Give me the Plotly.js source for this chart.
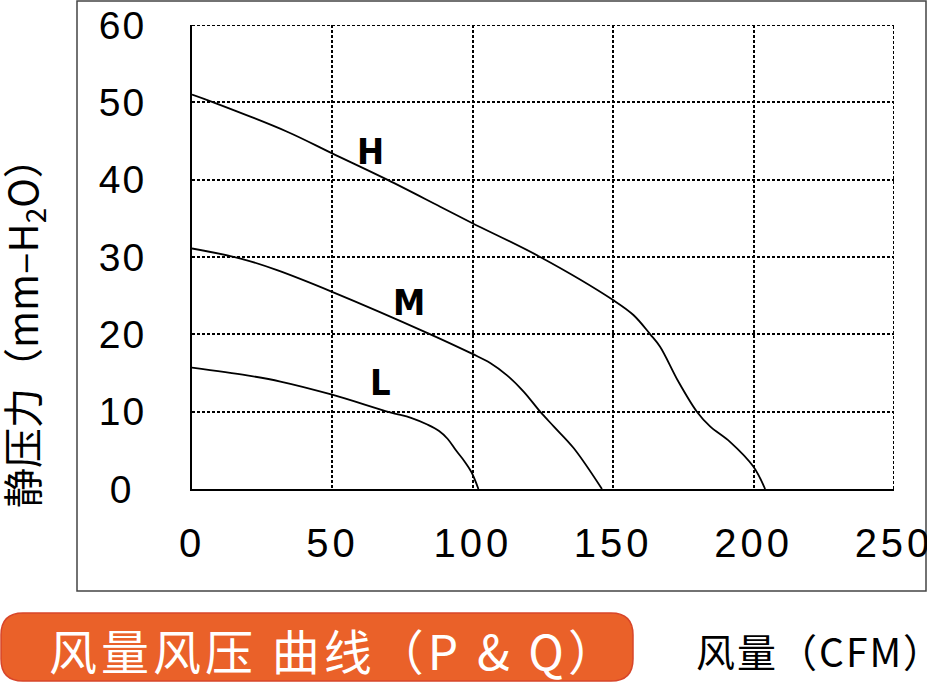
<!DOCTYPE html>
<html>
<head>
<meta charset="utf-8">
<script src="https://cdn.plot.ly/plotly-3.0.1.min.js"></script>
<style>
  body { margin: 0; background: #fff; }
  #chart { width: 927px; height: 683px; }
  .xtick text { letter-spacing: 4px; }
  .ytick text { letter-spacing: 2px; }
  g.annotation[data-index="4"] text { letter-spacing: 4px; }
  g.annotation[data-index="5"] text { letter-spacing: 2px; }
</style>
</head>
<body>
<div id="chart"></div>
<script>
// airflow (CFM) / static pressure (mm-H2O)
var hFlow = [0, 7.6, 33.9, 49.9, 69.5, 88.4, 99.7, 124, 150.1, 157.2, 163.2, 166.7, 173.2, 179.8, 184.5, 191.6, 199.9, 204.1];
var hPres = [51.0, 50.0, 46.2, 43.4, 40.0, 36.5, 34.4, 30.0, 24.4, 22.5, 20.0, 18.4, 13.9, 10.0, 8.1, 6.1, 2.9, 0];

var mFlow = [0, 17.3, 30.3, 49.9, 84.3, 99.7, 106.2, 112.2, 118.1, 124, 128.8, 135.9, 146];
var mPres = [31.1, 29.8, 28.3, 25.5, 20.1, 17.5, 16.3, 14.7, 12.6, 10.0, 8.1, 5.3, 0];

var lFlow = [0, 19.6, 31.5, 49.9, 70.6, 78, 84, 88, 91, 94, 97, 99.5, 102];
var lPres = [15.7, 14.7, 13.9, 12.2, 9.9, 9.2, 8.3, 7.5, 6.5, 5.0, 3.6, 2.2, 0];

var curveNames = ['H', 'M', 'L'];
var labelFlow = [63.6, 77.1, 67.0];
var labelPres = [43.6, 24.1, 13.8];

var xTicks = [0, 50, 100, 150, 200, 250];
var yTicks = [0, 10, 20, 30, 40, 50, 60];
var yTickText = ['0\u00a0', '10', '20', '30', '40', '50', '60'];

// page pixel -> paper coords (plot area is 192..894 x 25..489)
function px(x) { return (x - 192) / 702; }
function py(y) { return (489 - y) / 464; }

function curve(x, y) {
    return {
        type: 'scatter',
        mode: 'lines',
        x: x,
        y: y,
        line: { color: '#000', width: 1.8, shape: 'spline', smoothing: 1 },
        hoverinfo: 'skip'
    };
}

var traces = [curve(hFlow, hPres), curve(mFlow, mPres), curve(lFlow, lPres)];

var labels = curveNames.map(function (n, i) {
    return {
        x: labelFlow[i], y: labelPres[i], text: n, showarrow: false,
        xanchor: 'center', yanchor: 'middle',
        font: { family: 'Liberation Sans Narrow, DejaVu Sans Condensed, Liberation Sans', size: 36, weight: 'bold', color: '#000' }
    };
});

// rounded orange banner
var bx0 = px(1), bx1 = px(633), by0 = py(681), by1 = py(613);
var rx = 22 / 702, ry = 22 / 464;
var bannerPath = 'M' + (bx0 + rx) + ',' + by1 +
    ' L' + (bx1 - rx) + ',' + by1 +
    ' Q' + bx1 + ',' + by1 + ' ' + bx1 + ',' + (by1 - ry) +
    ' L' + bx1 + ',' + (by0 + ry) +
    ' Q' + bx1 + ',' + by0 + ' ' + (bx1 - rx) + ',' + by0 +
    ' L' + (bx0 + rx) + ',' + by0 +
    ' Q' + bx0 + ',' + by0 + ' ' + bx0 + ',' + (by0 + ry) +
    ' L' + bx0 + ',' + (by1 - ry) +
    ' Q' + bx0 + ',' + by1 + ' ' + (bx0 + rx) + ',' + by1 + ' Z';

var gridStyle = { color: '#000', width: 2, dash: '3px,2px' };
var xMax = xTicks[xTicks.length - 1], yMax = yTicks[yTicks.length - 1];

var layout = {
    width: 927,
    height: 683,
    margin: { l: 192, r: 33, t: 25, b: 194, pad: 0 },
    paper_bgcolor: '#fff',
    plot_bgcolor: '#fff',
    showlegend: false,
    xaxis: {
        range: [0, xMax],
        tickvals: xTicks,
        ticks: '',
        showline: true, linecolor: '#000', linewidth: 2,
        showgrid: true, gridcolor: '#000', gridwidth: 2, griddash: '3px,2px',
        zeroline: false,
        ticklabelstandoff: 18,
        ticklabeloverflow: 'allow',
        tickfont: { family: 'Liberation Sans, Arial', size: 40, color: '#000' },
        fixedrange: true
    },
    yaxis: {
        range: [0, yMax],
        tickvals: yTicks,
        ticktext: yTickText,
        ticks: '',
        showline: true, linecolor: '#000', linewidth: 2,
        showgrid: true, gridcolor: '#000', gridwidth: 2, griddash: '3px,2px',
        zeroline: false,
        ticklabelstandoff: 36,
        ticklabeloverflow: 'allow',
        tickfont: { family: 'Liberation Sans, Arial', size: 39, color: '#000' },
        fixedrange: true
    },
    shapes: [
        { type: 'rect', xref: 'paper', yref: 'paper', x0: px(77), x1: px(926), y0: py(591), y1: py(1),
          line: { color: '#444', width: 1.5 }, layer: 'below' },
        // grid lines on the far edges, which plotly leaves out
        { type: 'line', xref: 'x', yref: 'y', x0: xMax, x1: xMax, y0: 0, y1: yMax, line: gridStyle },
        { type: 'line', xref: 'x', yref: 'y', x0: 0, x1: xMax, y0: yMax, y1: yMax, line: gridStyle },
        { type: 'path', xref: 'paper', yref: 'paper', path: bannerPath,
          fillcolor: '#EA6129', line: { color: '#D8452A', width: 1.5 } }
    ],
    annotations: labels.concat([
        { xref: 'paper', yref: 'paper', x: px(23), y: py(323), textangle: -90,
          xanchor: 'center', yanchor: 'middle',
          text: '静压力（mm–H<sub>2</sub>O）', showarrow: false,
          font: { family: 'Noto Sans CJK SC', size: 40, color: '#000' } },
        { xref: 'paper', yref: 'paper', x: px(334), y: py(649),
          xanchor: 'center', yanchor: 'middle',
          text: '风量风压 曲线（P & Q）', showarrow: false,
          font: { family: 'Noto Sans CJK SC', size: 48, color: '#fff' } },
        { xref: 'paper', yref: 'paper', x: px(820), y: py(650),
          xanchor: 'center', yanchor: 'middle',
          text: '风量（CFM）', showarrow: false,
          font: { family: 'Noto Sans CJK SC', size: 39, color: '#000' } }
    ])
};

Plotly.newPlot('chart', traces, layout, { displayModeBar: false, staticPlot: true });
</script>
</body>
</html>
